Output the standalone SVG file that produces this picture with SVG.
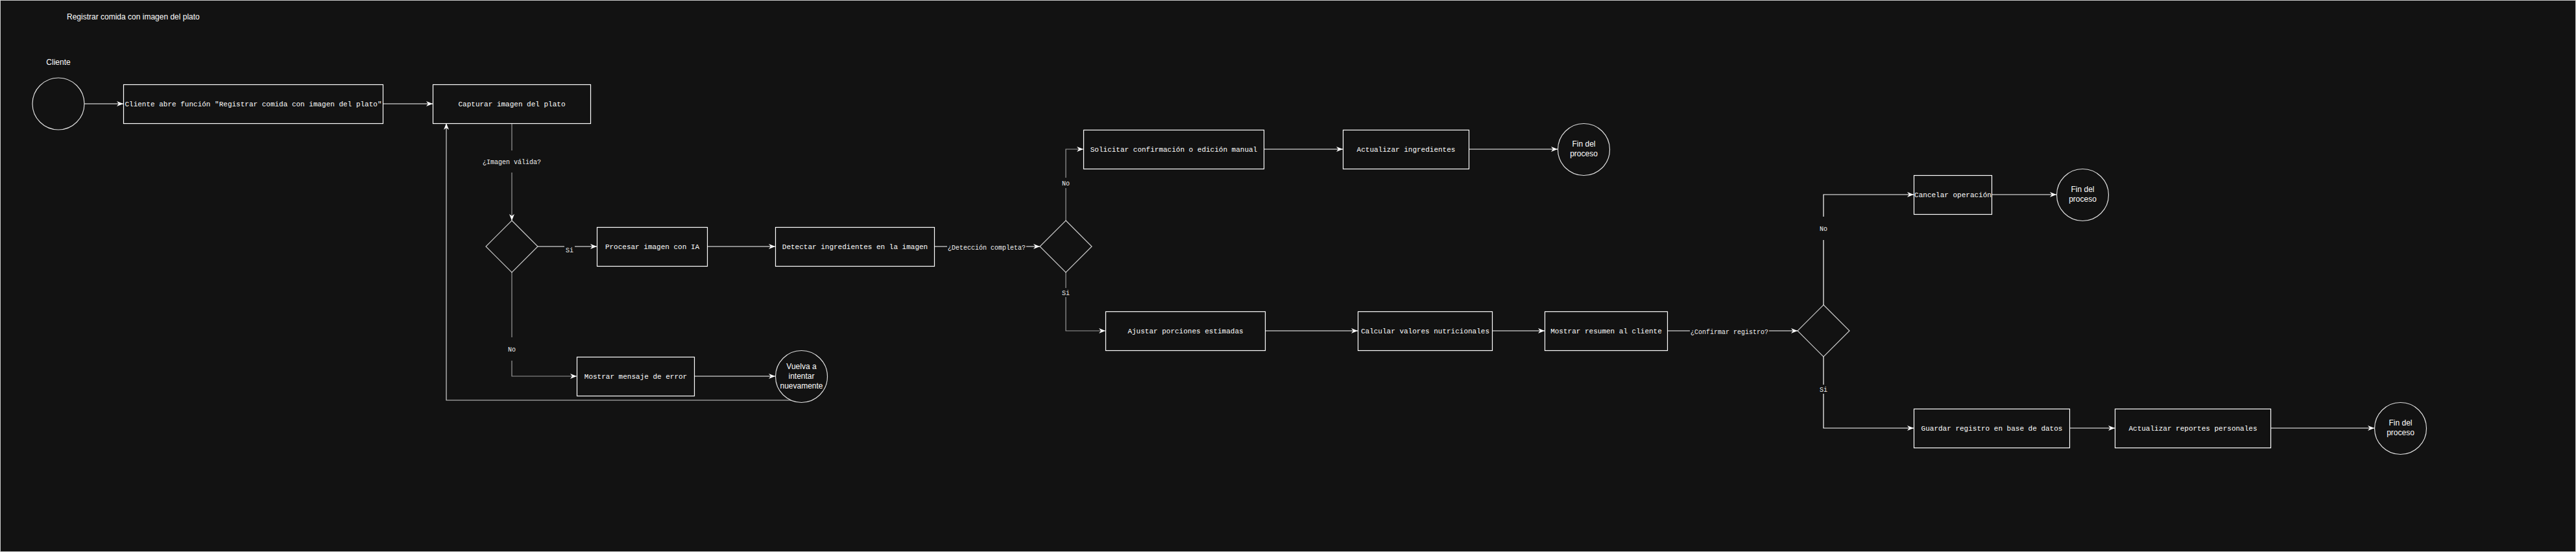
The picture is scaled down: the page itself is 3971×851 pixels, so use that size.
<svg xmlns="http://www.w3.org/2000/svg" width="3971" height="851" viewBox="0 0 3971 851">
<defs>
<marker id="arr" markerUnits="userSpaceOnUse" markerWidth="10" markerHeight="8" refX="10" refY="4" orient="auto">
<path d="M0,0 L10,4 L0,8 L3,4 Z" fill="#ffffff"/>
</marker>
<style>
.box{fill:#121212;stroke:#ffffff;stroke-width:1.2}
.dia{fill:#121212;stroke:#cfcfcf;stroke-width:1.2}
.cir{fill:#121212;stroke:#dddddd;stroke-width:1.2}
.mono{font-family:"Liberation Mono","DejaVu Sans Mono",monospace;font-size:11px;fill:#ffffff;text-anchor:middle}
.lbl{font-family:"Liberation Mono","DejaVu Sans Mono",monospace;font-size:10px;fill:#f0f0f0;text-anchor:middle}
.sans{font-family:"Liberation Sans",Arial,sans-serif;font-size:12px;fill:#ffffff;text-anchor:middle}
.edge{fill:none;stroke:#ffffff;stroke-width:1.2;marker-end:url(#arr)}
.gray{stroke:#9a9a9a}
.lb{fill:#121212}
</style>
</defs>
<rect x="0" y="0" width="3971" height="851" fill="#121212"/>
<rect x="0.5" y="0.5" width="3970" height="850" fill="none" stroke="#cccccc" stroke-width="1"/>

<text x="103" y="30" font-family="Liberation Sans, Arial, sans-serif" font-size="12" fill="#ffffff">Registrar comida con imagen del plato</text>

<g id="connectors">
<path class="edge" d="M130,160 L190,160"/>
<path class="edge" d="M590,160 L667,160"/>
<path class="edge gray" d="M789,190 L789,340"/>
<path class="edge" d="M829,380 L920,380"/>
<path class="edge" d="M1090,380 L1195,380"/>
<path class="edge" d="M1440,380 L1603,380"/>
<path class="edge gray" d="M1643,340 L1643,230 L1670,230"/>
<path class="edge gray" d="M1643,420 L1643,510 L1704,510"/>
<path class="edge" d="M1948,230 L2070,230"/>
<path class="edge" d="M2265,230 L2401,230"/>
<path class="edge" d="M1950,510 L2093,510"/>
<path class="edge" d="M2300,510 L2381,510"/>
<path class="edge" d="M2570,510 L2771,510"/>
<path class="edge" d="M2811,470 L2811,300 L2950,300"/>
<path class="edge" d="M2811,550 L2811,660 L2950,660"/>
<path class="edge" d="M3070,300 L3170,300"/>
<path class="edge" d="M3190,660 L3260,660"/>
<path class="edge" d="M3500,660 L3660,660"/>
<path class="edge gray" d="M789,420 L789,580 L889,580"/>
<path class="edge" d="M1070,580 L1195,580"/>
<path class="edge" style="stroke:#d0d0d0" d="M1226,617 L688,617 L688,190"/>
<rect class="lb" x="740" y="232" width="98" height="34"/>
<text class="lbl" x="789" y="253">¿Imagen válida?</text>
<rect class="lb" x="870" y="377" width="16" height="13"/>
<text class="lbl" x="878" y="389">Si</text>
<rect class="lb" x="1460" y="374" width="122" height="14"/>
<text class="lbl" x="1521" y="385">¿Detección completa?</text>
<rect class="lb" x="1634" y="274" width="18" height="16"/>
<text class="lbl" x="1643" y="286">No</text>
<rect class="lb" x="1635" y="444" width="16" height="14"/>
<text class="lbl" x="1643" y="455">Si</text>
<rect class="lb" x="2605" y="504" width="122" height="14"/>
<text class="lbl" x="2666" y="515">¿Confirmar registro?</text>
<rect class="lb" x="2800" y="334" width="22" height="36"/>
<text class="lbl" x="2811" y="356">No</text>
<rect class="lb" x="2803" y="593" width="16" height="14"/>
<text class="lbl" x="2811" y="604">Si</text>
<rect class="lb" x="778" y="520" width="22" height="36"/>
<text class="lbl" x="789" y="542">No</text>
</g>

<g id="n-cliente-label"><text class="sans" x="90" y="100">Cliente</text></g>
<g id="n-start"><circle class="cir" cx="90" cy="160" r="40"/></g>
<g id="n-abre"><rect class="box" x="190.5" y="130.5" width="400" height="60"/><text class="mono" x="390.5" y="164">Cliente abre función "Registrar comida con imagen del plato"</text></g>
<g id="n-capturar"><rect class="box" x="667.5" y="130.5" width="243" height="60"/><text class="mono" x="789" y="164">Capturar imagen del plato</text></g>
<g id="n-d1"><polygon class="dia" points="789,340 829,380 789,420 749,380"/></g>
<g id="n-procesar"><rect class="box" x="920.5" y="350.5" width="170" height="60"/><text class="mono" x="1005.5" y="384">Procesar imagen con IA</text></g>
<g id="n-detectar"><rect class="box" x="1195.5" y="350.5" width="245" height="60"/><text class="mono" x="1318" y="384">Detectar ingredientes en la imagen</text></g>
<g id="n-d2"><polygon class="dia" points="1643,340 1683,380 1643,420 1603,380"/></g>
<g id="n-solicitar"><rect class="box" x="1670.5" y="200.5" width="278" height="60"/><text class="mono" x="1809.5" y="234">Solicitar confirmación o edición manual</text></g>
<g id="n-actual-ing"><rect class="box" x="2070.5" y="200.5" width="194" height="60"/><text class="mono" x="2167.5" y="234">Actualizar ingredientes</text></g>
<g id="n-fin1"><circle class="cir" cx="2441.5" cy="230.5" r="40"/><text class="sans" x="2441.5" y="226">Fin del</text><text class="sans" x="2441.5" y="241">proceso</text></g>
<g id="n-ajustar"><rect class="box" x="1704.5" y="480.5" width="246" height="60"/><text class="mono" x="1827.5" y="514">Ajustar porciones estimadas</text></g>
<g id="n-calcular"><rect class="box" x="2093.5" y="480.5" width="207" height="60"/><text class="mono" x="2197" y="514">Calcular valores nutricionales</text></g>
<g id="n-resumen"><rect class="box" x="2381.5" y="480.5" width="189" height="60"/><text class="mono" x="2476" y="514">Mostrar resumen al cliente</text></g>
<g id="n-d3"><polygon class="dia" points="2811,470 2851,510 2811,550 2771,510"/></g>
<g id="n-cancelar"><rect class="box" x="2950.5" y="270.5" width="120" height="60"/><text class="mono" x="3010.5" y="304">Cancelar operación</text></g>
<g id="n-fin2"><circle class="cir" cx="3210.5" cy="300.5" r="40"/><text class="sans" x="3210.5" y="296">Fin del</text><text class="sans" x="3210.5" y="311">proceso</text></g>
<g id="n-guardar"><rect class="box" x="2950.5" y="630.5" width="240" height="60"/><text class="mono" x="3070.5" y="664">Guardar registro en base de datos</text></g>
<g id="n-reportes"><rect class="box" x="3260.5" y="630.5" width="240" height="60"/><text class="mono" x="3380.5" y="664">Actualizar reportes personales</text></g>
<g id="n-fin3"><circle class="cir" cx="3700.5" cy="660.5" r="40"/><text class="sans" x="3700.5" y="656">Fin del</text><text class="sans" x="3700.5" y="671">proceso</text></g>
<g id="n-error"><rect class="box" x="889.5" y="550.5" width="181" height="60"/><text class="mono" x="980" y="584">Mostrar mensaje de error</text></g>
<g id="n-vuelva"><circle class="cir" cx="1235.5" cy="580.5" r="40"/><text class="sans" x="1235.5" y="569">Vuelva a</text><text class="sans" x="1235.5" y="584">intentar</text><text class="sans" x="1235.5" y="599">nuevamente</text></g>
</svg>
